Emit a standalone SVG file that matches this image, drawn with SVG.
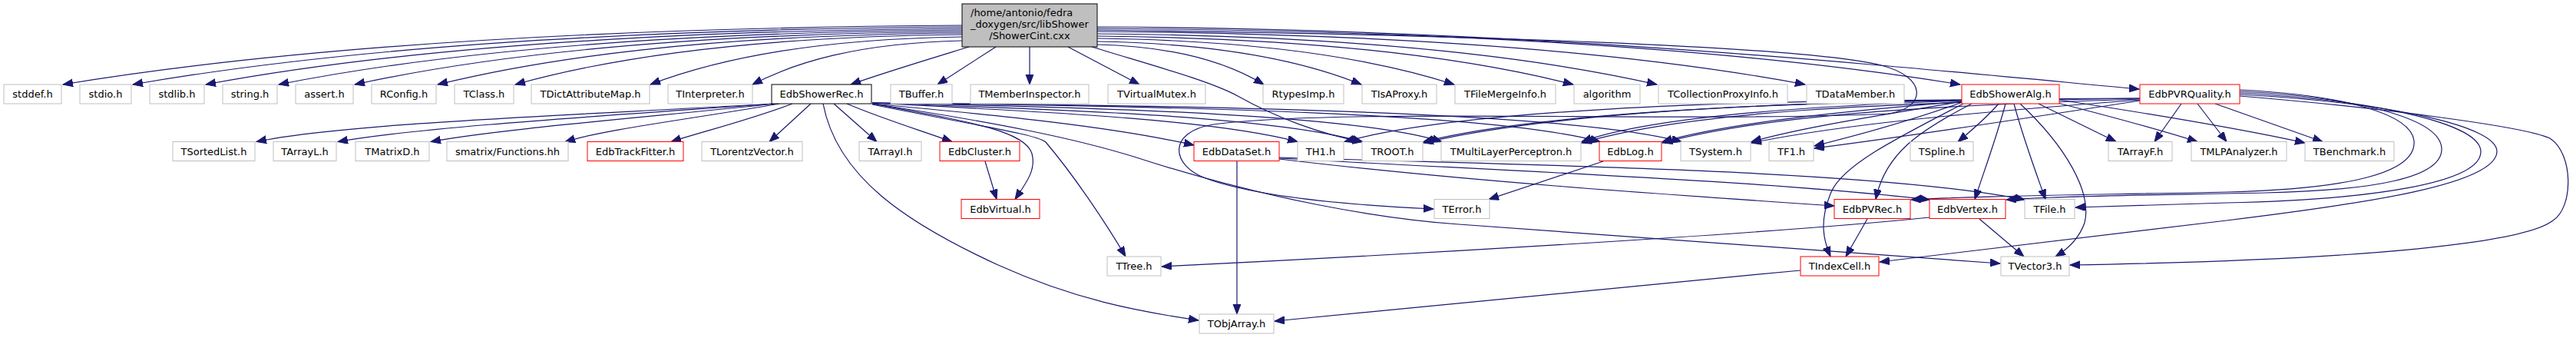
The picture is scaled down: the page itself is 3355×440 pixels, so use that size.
<svg xmlns="http://www.w3.org/2000/svg" width="3355" height="440" viewBox="0 0 3355 440">
<style>
.node rect{fill:#ffffff;stroke:#bfbfbf;stroke-width:1}
.node.red rect{stroke:#ff0000}
.node.doc rect{stroke:#000000}
.node.root rect{fill:#bfbfbf;stroke:#000000}
.node text{font-family:"DejaVu Sans",sans-serif;font-size:13px;fill:#000000;text-anchor:middle}
.node text.l{text-anchor:start}
#edges path{fill:none;stroke:#191970;stroke-width:1.2;marker-end:url(#arr)}
</style>
<defs>
<marker id="arr" markerUnits="userSpaceOnUse" markerWidth="14" markerHeight="11" refX="13" refY="5" orient="auto">
<path d="M0,0 L13,5 L0,10 z" fill="#191970" stroke="#191970" stroke-width="1"/>
</marker>
</defs>
<rect x="0" y="0" width="3355" height="440" fill="#ffffff"/>
<g id="edges">
<!-- root to left row -->
<path d="M1253,33 C667,37 316,71.5 82,110"/>
<path d="M1253,35 C713,39 389,72.5 173,110"/>
<path d="M1253,37 C760,41 465,73.5 268,110"/>
<path d="M1253,39 C808,43 541,74.5 363,110"/>
<path d="M1253,41 C857,44.5 620,75.5 462,110"/>
<path d="M1253,43 C911,46 707,76.5 570,110"/>
<path d="M1253,45 C962,48 787,77.5 671,110"/>
<path d="M1253,48 C1050,51 928,79 847,110"/>
<path d="M1253,53 C1116,56 1035,81.5 980,110"/>
<path d="M1262,61 C1200,80 1150,95 1108,110"/>
<path d="M1297,61 L1221,110"/>
<path d="M1341,61 L1341,110"/>
<path d="M1391,61 L1484,110"/>
<!-- root to right row -->
<path d="M1429,58 C1537,60.6 1603,84 1646,110"/>
<path d="M1429,54 C1601,57 1704,82 1773,110"/>
<path d="M1429,50 C1661,53 1801,80 1894,110"/>
<path d="M1429,47 C1739,50 1925,78.5 2049,110"/>
<path d="M1429,44 C1793,47 2012,77 2158,110"/>
<path d="M1429,41 C1890,44.5 2167,75.5 2351,110"/>
<path d="M1429,37 C1991,41 2328,73.5 2553,110"/>
<path d="M1429,35 C2000,38 2450,85 2786,116"/>
<path d="M1422,61 C1500,85 1575,105 1612,125 C1660,152 1720,175 1775,184.5"/>
<path d="M1429,39 C1900,45 2350,60 2450,85 C2510,100 2510,140 2460,148 C2200,160 1750,140 1580,162 C1520,172 1525,215 1570,232 C1640,258 1780,268 1867,272"/>
<!-- EdbShowerRec -->
<path d="M1008,135 C750,150 450,160 334,184.5"/>
<path d="M1008,135 C800,150 550,165 440,184.5"/>
<path d="M1010,135 C850,152 650,168 561,184.5"/>
<path d="M1015,135 C900,155 790,168 736,184.5"/>
<path d="M1032,135 C980,155 920,170 874,184.5"/>
<path d="M1056,135 L1002,184.5"/>
<path d="M1086,135 L1142,184.5"/>
<path d="M1103,135 C1150,155 1200,170 1240,184.5"/>
<path d="M1072,135 C1090,230 1180,290 1300,345 C1400,390 1480,405 1561,417"/>
<path d="M1136,135 C1260,158 1335,170 1344,200 C1350,222 1335,240 1322,259.5"/>
<path d="M1136,136 C1280,165 1350,175 1362,185 C1400,230 1440,290 1466,334"/>
<path d="M1136,135 C1300,150 1450,165 1555,189"/>
<path d="M1136,134 C1350,145 1580,155 1690,184.5"/>
<path d="M1136,134 C1400,143 1660,152 1774,184.5"/>
<path d="M1136,134 C1450,140 1770,150 1878,184.5"/>
<path d="M1136,134 C1550,138 1950,148 2084,184.5"/>
<path d="M1136,134 C1600,137 2050,147 2190,184.5"/>
<path d="M1136,135 C1300,160 1400,180 1480,205 C1650,260 1800,285 1900,292 C2200,315 2450,330 2605,343"/>
<!-- second level -->
<path d="M1283,210 L1298,259.5"/>
<path d="M1611,210 L1611,409"/>
<path d="M1666,207 C1900,235 2150,252 2389,268"/>
<path d="M1666,206 C1950,222 2300,235 2513,260"/>
<path d="M1666,205 C2000,215 2450,222 2637,260"/>
<path d="M2088,210 L1939,259.5"/>
<path d="M2432,285 L2404,334"/>
<path d="M2578,285 L2636,334"/>
<path d="M2513,283 C2300,305 1800,333 1513,347"/>
<path d="M2345,352 C2100,375 1850,400 1660,418"/>
<!-- EdbShowerAlg -->
<path d="M2603,135 C2590,150 2570,168 2550,184.5"/>
<path d="M2612,135 C2600,180 2585,220 2572,259.5"/>
<path d="M2623,135 C2635,180 2650,220 2664,259.5"/>
<path d="M2631,135 C2690,190 2725,250 2715,290 C2708,310 2692,325 2677,334"/>
<path d="M2568,135 C2500,170 2455,200 2443,259.5"/>
<path d="M2557,135 C2470,180 2400,215 2385,250 C2368,290 2376,315 2384,334"/>
<path d="M2655,135 L2756,184.5"/>
<path d="M2680,134 C2750,152 2810,168 2862,184.5"/>
<path d="M2682,130 C2800,148 2920,168 3002,186"/>
<path d="M2556,133 C2480,160 2420,176 2363,190"/>
<path d="M2556,132 C2450,150 2350,165 2281,184.5"/>
<path d="M2556,132 C2400,145 2250,160 2165,184.5"/>
<path d="M2556,131 C2350,138 2150,152 2060,184.5"/>
<path d="M2556,131 C2300,134 2000,148 1854,184.5"/>
<path d="M2556,130 C2250,131 1900,143 1751,184.5"/>
<!-- EdbPVRQuality -->
<path d="M2841,135 L2806,184.5"/>
<path d="M2862,135 L2900,184.5"/>
<path d="M2885,135 L3025,184.5"/>
<path d="M2787,131 C2600,160 2450,182 2363,193"/>
<path d="M2787,130 C2550,148 2400,162 2281,186"/>
<path d="M2787,129 C2500,138 2300,150 2165,186"/>
<path d="M2787,128 C2450,133 2200,145 2060,186"/>
<path d="M2787,128 C2400,129 2050,140 1854,186"/>
<path d="M2917,117 C3060,124 3140,150 3144,183 C3148,225 3060,246 2900,250 C2700,254 2560,255 2489,260"/>
<path d="M2917,119 C3090,128 3178,158 3180,193 C3182,232 3090,248 2950,251 C2800,254 2680,255 2613,260"/>
<path d="M2917,121 C3110,132 3230,163 3231,197 C3232,238 3090,260 2900,264 C2800,267 2750,268 2703,270"/>
<path d="M2917,123 C3120,134 3252,165 3252,197 C3252,240 3080,265 2900,287 C2700,312 2550,330 2448,341"/>
<path d="M2917,125 C3100,140 3290,165 3321,180 C3352,200 3352,270 3325,287 C3290,315 3100,338 2696,345"/>
</g>
<g id="root" class="node root"><rect x="1253" y="5" width="176" height="56"/><text class="l" x="1264" y="21">/home/antonio/fedra</text><text class="l" x="1264" y="36">_doxygen/src/libShower</text><text x="1341" y="51">/ShowerCint.cxx</text></g>
<g id="n_stddef" class="node"><rect x="5" y="110" width="75" height="25"/><text x="42.5" y="127">stddef.h</text></g>
<g id="n_stdio" class="node"><rect x="104" y="110" width="67" height="25"/><text x="137.5" y="127">stdio.h</text></g>
<g id="n_stdlib" class="node"><rect x="195" y="110" width="71" height="25"/><text x="230.5" y="127">stdlib.h</text></g>
<g id="n_string" class="node"><rect x="290" y="110" width="71" height="25"/><text x="325.5" y="127">string.h</text></g>
<g id="n_assert" class="node"><rect x="385" y="110" width="75" height="25"/><text x="422.5" y="127">assert.h</text></g>
<g id="n_rconfig" class="node"><rect x="484" y="110" width="84" height="25"/><text x="526" y="127">RConfig.h</text></g>
<g id="n_tclass" class="node"><rect x="592" y="110" width="77" height="25"/><text x="630.5" y="127">TClass.h</text></g>
<g id="n_tdictattributemap" class="node"><rect x="692" y="110" width="154" height="25"/><text x="769" y="127">TDictAttributeMap.h</text></g>
<g id="n_tinterpreter" class="node"><rect x="870" y="110" width="110" height="25"/><text x="925" y="127">TInterpreter.h</text></g>
<g id="n_edbshowerrec" class="node doc"><rect x="1005" y="110" width="130" height="25"/><text x="1070" y="127">EdbShowerRec.h</text></g>
<g id="n_tbuffer" class="node"><rect x="1160" y="110" width="80" height="25"/><text x="1200" y="127">TBuffer.h</text></g>
<g id="n_tmemberinspector" class="node"><rect x="1264" y="110" width="154" height="25"/><text x="1341" y="127">TMemberInspector.h</text></g>
<g id="n_tvirtualmutex" class="node"><rect x="1443" y="110" width="127" height="25"/><text x="1506.5" y="127">TVirtualMutex.h</text></g>
<g id="n_rtypesimp" class="node"><rect x="1645" y="110" width="105" height="25"/><text x="1697.5" y="127">RtypesImp.h</text></g>
<g id="n_tisaproxy" class="node"><rect x="1774" y="110" width="97" height="25"/><text x="1822.5" y="127">TIsAProxy.h</text></g>
<g id="n_tfilemergeinfo" class="node"><rect x="1895" y="110" width="131" height="25"/><text x="1960.5" y="127">TFileMergeInfo.h</text></g>
<g id="n_algorithm" class="node"><rect x="2050" y="110" width="86" height="25"/><text x="2093" y="127">algorithm</text></g>
<g id="n_tcollectionproxyinfo" class="node"><rect x="2160" y="110" width="168" height="25"/><text x="2244" y="127">TCollectionProxyInfo.h</text></g>
<g id="n_tdatamember" class="node"><rect x="2353" y="110" width="127" height="25"/><text x="2416.5" y="127">TDataMember.h</text></g>
<g id="n_edbshoweralg" class="node red"><rect x="2555" y="110" width="127" height="25"/><text x="2618.5" y="127">EdbShowerAlg.h</text></g>
<g id="n_edbpvrquality" class="node red"><rect x="2787" y="110" width="130" height="25"/><text x="2852" y="127">EdbPVRQuality.h</text></g>
<g id="n_tsortedlist" class="node"><rect x="225" y="184.5" width="107" height="25"/><text x="278.5" y="201.5">TSortedList.h</text></g>
<g id="n_tarrayl" class="node"><rect x="356" y="184.5" width="82" height="25"/><text x="397" y="201.5">TArrayL.h</text></g>
<g id="n_tmatrixd" class="node"><rect x="463" y="184.5" width="96" height="25"/><text x="511" y="201.5">TMatrixD.h</text></g>
<g id="n_smatrix" class="node"><rect x="582" y="184.5" width="158" height="25"/><text x="661" y="201.5">smatrix/Functions.hh</text></g>
<g id="n_edbtrackfitter" class="node red"><rect x="765" y="184.5" width="125" height="25"/><text x="827.5" y="201.5">EdbTrackFitter.h</text></g>
<g id="n_tlorentzvector" class="node"><rect x="914" y="184.5" width="131" height="25"/><text x="979.5" y="201.5">TLorentzVector.h</text></g>
<g id="n_tarrayi" class="node"><rect x="1119" y="184.5" width="81" height="25"/><text x="1159.5" y="201.5">TArrayI.h</text></g>
<g id="n_edbcluster" class="node red"><rect x="1224" y="184.5" width="104" height="25"/><text x="1276" y="201.5">EdbCluster.h</text></g>
<g id="n_edbdataset" class="node red"><rect x="1555" y="184.5" width="111" height="25"/><text x="1610.5" y="201.5">EdbDataSet.h</text></g>
<g id="n_th1" class="node"><rect x="1690" y="184.5" width="60" height="25"/><text x="1720" y="201.5">TH1.h</text></g>
<g id="n_troot" class="node"><rect x="1774" y="184.5" width="79" height="25"/><text x="1813.5" y="201.5">TROOT.h</text></g>
<g id="n_tmultilayerperceptron" class="node"><rect x="1877" y="184.5" width="182" height="25"/><text x="1968" y="201.5">TMultiLayerPerceptron.h</text></g>
<g id="n_edblog" class="node red"><rect x="2083" y="184.5" width="81" height="25"/><text x="2123.5" y="201.5">EdbLog.h</text></g>
<g id="n_tsystem" class="node"><rect x="2189" y="184.5" width="91" height="25"/><text x="2234.5" y="201.5">TSystem.h</text></g>
<g id="n_tf1" class="node"><rect x="2304" y="184.5" width="58" height="25"/><text x="2333" y="201.5">TF1.h</text></g>
<g id="n_tspline" class="node"><rect x="2488" y="184.5" width="82" height="25"/><text x="2529" y="201.5">TSpline.h</text></g>
<g id="n_tarrayf" class="node"><rect x="2746" y="184.5" width="83" height="25"/><text x="2787.5" y="201.5">TArrayF.h</text></g>
<g id="n_tmlpanalyzer" class="node"><rect x="2854" y="184.5" width="124" height="25"/><text x="2916" y="201.5">TMLPAnalyzer.h</text></g>
<g id="n_tbenchmark" class="node"><rect x="3002" y="184.5" width="116" height="25"/><text x="3060" y="201.5">TBenchmark.h</text></g>
<g id="n_edbvirtual" class="node red"><rect x="1252" y="259.5" width="102" height="25"/><text x="1303" y="276.5">EdbVirtual.h</text></g>
<g id="n_terror" class="node"><rect x="1868" y="259.5" width="72" height="25"/><text x="1904" y="276.5">TError.h</text></g>
<g id="n_edbpvrec" class="node red"><rect x="2389" y="259.5" width="99" height="25"/><text x="2438.5" y="276.5">EdbPVRec.h</text></g>
<g id="n_edbvertex" class="node red"><rect x="2513" y="259.5" width="99" height="25"/><text x="2562.5" y="276.5">EdbVertex.h</text></g>
<g id="n_tfile" class="node"><rect x="2637" y="259.5" width="65" height="25"/><text x="2669.5" y="276.5">TFile.h</text></g>
<g id="n_ttree" class="node"><rect x="1442" y="334" width="70" height="25"/><text x="1477" y="351">TTree.h</text></g>
<g id="n_tindexcell" class="node red"><rect x="2345" y="334" width="102" height="25"/><text x="2396" y="351">TIndexCell.h</text></g>
<g id="n_tvector3" class="node"><rect x="2606" y="334" width="89" height="25"/><text x="2650.5" y="351">TVector3.h</text></g>
<g id="n_tobjarray" class="node"><rect x="1562" y="409" width="97" height="25"/><text x="1610.5" y="426">TObjArray.h</text></g>
</svg>
